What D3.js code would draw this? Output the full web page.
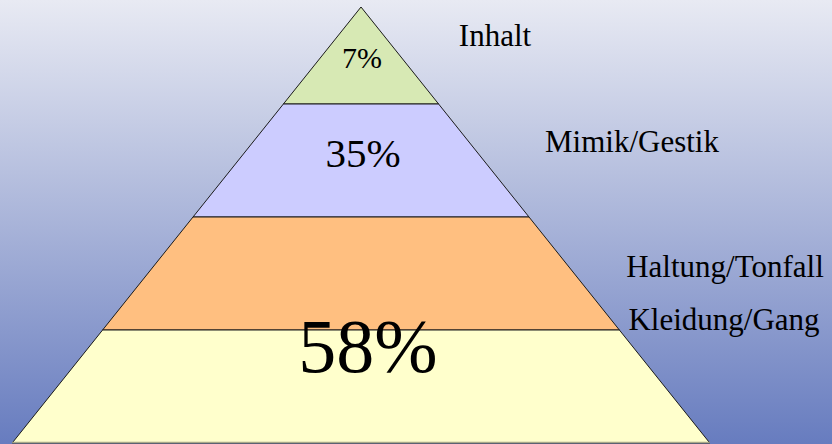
<!DOCTYPE html>
<html>
<head>
<meta charset="utf-8">
<script src="https://cdn.jsdelivr.net/npm/d3@7"></script>
<style>
  body { margin: 0; }
  #chart { position: relative; width: 832px; height: 444px; overflow: hidden; }
  #chart svg { display: block; position: absolute; left: 0; top: 0; }
  .lbl {
    position: absolute;
    font-family: "Liberation Serif", Tinos, "Times New Roman", serif;
    color: #000;
    line-height: 1;
    white-space: nowrap;
    transform: translateX(-50%);
  }
</style>
</head>
<body>
<div id="chart"></div>
<script>
// tiers of the pyramid, top to bottom
var tiers = ["Inhalt", "Mimik/Gestik", "Haltung/Tonfall", "Kleidung/Gang"];
var tierColors = ["#d7e9b4", "#ccccff", "#ffbf80", "#ffffcc"];
// shares shown inside the pyramid
var shares = ["7%", "35%", "58%"];

var width = 832,
    height = 444,
    apexX = 361,
    slope = 0.8;

var chart = d3.select("#chart");
var svg = chart.append("svg")
    .attr("width", width)
    .attr("height", height);

var grad = svg.append("defs").append("linearGradient")
    .attr("id", "bg")
    .attr("x1", 0).attr("y1", 0).attr("x2", 0).attr("y2", 1);
grad.append("stop").attr("offset", "0%").attr("stop-color", "#e8eaf3");
grad.append("stop").attr("offset", "50%").attr("stop-color", "#a9b4d9");
grad.append("stop").attr("offset", "100%").attr("stop-color", "#677cbf");

svg.append("rect")
    .attr("width", width)
    .attr("height", height)
    .attr("fill", "url(#bg)");

// tier boundary -> y (top tier is a bit shorter than the others)
var y = d3.scaleLinear()
    .domain([0, 1, tiers.length])
    .range([7, 104, 443]);

function halfWidth(yy) { return (yy - y(0)) * slope; }

var tierPath = function(d, i) {
  var y0 = y(i), y1 = y(i + 1);
  var w0 = halfWidth(y0), w1 = halfWidth(y1);
  return "M" + (apexX - w0) + "," + y0 +
         "L" + (apexX + w0) + "," + y0 +
         "L" + (apexX + w1) + "," + y1 +
         "L" + (apexX - w1) + "," + y1 + "Z";
};

svg.selectAll("path.tier")
    .data(tiers)
  .enter().append("path")
    .attr("class", "tier")
    .attr("d", tierPath)
    .attr("fill", function(d, i) { return tierColors[i]; })
    .attr("stroke", "#1a1a1a")
    .attr("stroke-width", 1);

// base line is greyish
svg.append("line")
    .attr("x1", apexX - halfWidth(y(tiers.length)))
    .attr("x2", apexX + halfWidth(y(tiers.length)))
    .attr("y1", y(tiers.length) - 0.5)
    .attr("y2", y(tiers.length) - 0.5)
    .attr("stroke", "#a8a888")
    .attr("stroke-width", 1.5);

// text as html on top; top = baseline - 0.8375 * size for Liberation Serif at line-height 1
function place(sel, pos) {
  sel.style("left", function(d, i) { return pos[i].x + "px"; })
     .style("top", function(d, i) { return (pos[i].y - 0.8375 * pos[i].size) + "px"; })
     .style("font-size", function(d, i) { return pos[i].size + "px"; })
     .text(function(d) { return d; });
}

var labelPos = [
  {x: 495, y: 45.5, size: 31},
  {x: 632, y: 151.5, size: 31},
  {x: 725, y: 277, size: 31},
  {x: 724, y: 330, size: 31}
];
chart.selectAll("div.tier-label")
    .data(tiers)
  .enter().append("div")
    .attr("class", "lbl tier-label")
    .call(place, labelPos);

var sharePos = [
  {x: 362, y: 68, size: 30},
  {x: 363, y: 167, size: 41},
  {x: 368, y: 371.5, size: 76}
];
chart.selectAll("div.share")
    .data(shares)
  .enter().append("div")
    .attr("class", "lbl share")
    .call(place, sharePos);
</script>
</body>
</html>
